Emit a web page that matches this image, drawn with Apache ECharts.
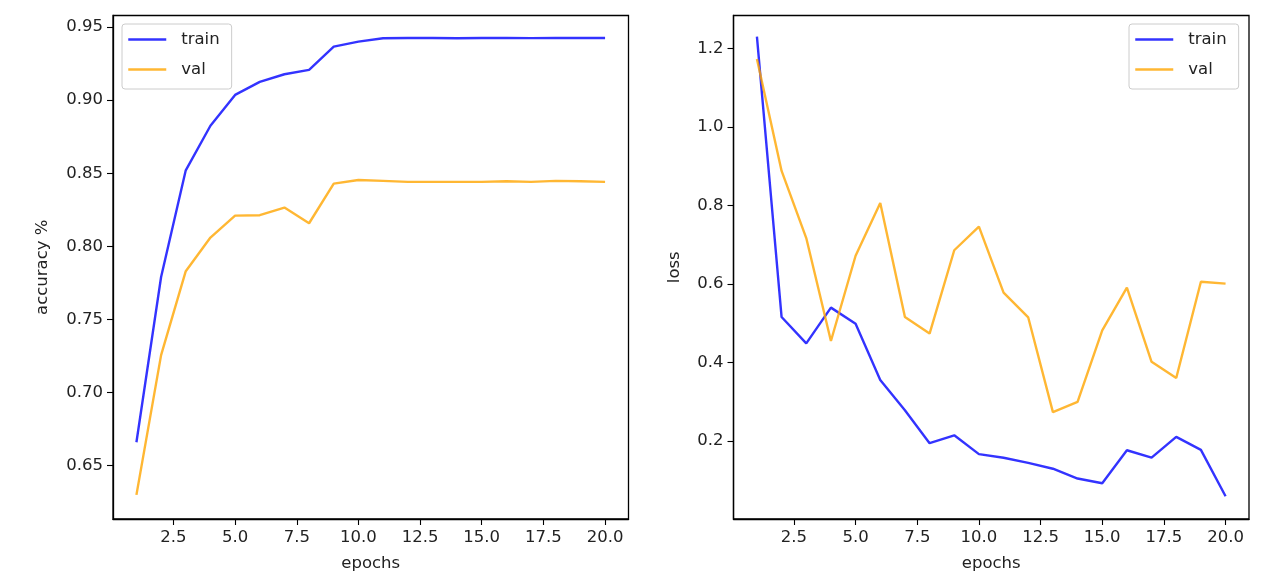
<!DOCTYPE html>
<html>
<head>
<meta charset="utf-8">
<script src="https://cdn.jsdelivr.net/npm/echarts@6/dist/echarts.min.js"></script>
<style>
html,body{margin:0;padding:0;background:#fff;}
#chart{width:1276px;height:587px;}
</style>
</head>
<body>
<div id="chart"></div>
<script>
const epochs = [1,2,3,4,5,6,7,8,9,10,11,12,13,14,15,16,17,18,19,20];
const accTrain = [0.666,0.779,0.852,0.8825,0.9036,0.9125,0.9177,0.9207,0.9366,0.940,0.9423,0.9425,0.9425,0.9423,0.9425,0.9426,0.9424,0.9425,0.9425,0.9425];
const accVal = [0.630,0.7256,0.783,0.806,0.821,0.8213,0.8265,0.8158,0.8429,0.8454,0.8448,0.8441,0.8441,0.8441,0.8441,0.8445,0.8441,0.8448,0.8445,0.8441];
const lossTrain = [1.23,0.516,0.449,0.540,0.499,0.356,0.279,0.195,0.215,0.167,0.158,0.145,0.130,0.105,0.093,0.177,0.158,0.211,0.178,0.060];
const lossVal = [1.173,0.888,0.717,0.455,0.672,0.806,0.516,0.474,0.686,0.746,0.578,0.515,0.274,0.300,0.482,0.591,0.402,0.361,0.606,0.601];
const epochTicks = [2.5,5,7.5,10,12.5,15,17.5,20];
const accTicks = [0.65,0.70,0.75,0.80,0.85,0.90,0.95];
const lossTicks = [0.2,0.4,0.6,0.8,1.0,1.2];
const seriesNames = ['train','val'];

const FONT = 'DejaVu Sans';
const FS = 16.5;
const TXT = '#222';
const BLUE = 'rgba(0,0,255,0.8)';
const ORANGE = 'rgba(255,165,0,0.8)';

function pts(ys){ return epochs.map((e,i)=>[e, ys[i]]); }

function xAxis(gi){
  return {
    type:'value', gridIndex:gi, min:0.05, max:20.95,
    name:'epochs', nameLocation:'middle', nameGap:36,
    nameTextStyle:{fontFamily:FONT, fontSize:FS, color:TXT},
    axisLine:{show:true, onZero:false, lineStyle:{color:'#000', width:1.3}},
    axisTick:{show:true, customValues:epochTicks, length:6, lineStyle:{color:'#000', width:1.1}},
    axisLabel:{customValues:epochTicks, formatter:v=>Number(v).toFixed(1), margin:10,
      fontFamily:FONT, fontSize:FS, color:TXT},
    splitLine:{show:false}
  };
}
function yAxis(gi, min, max, ticks, dec, name, gap){
  return {
    type:'value', gridIndex:gi, min:min, max:max,
    name:name, nameLocation:'middle', nameGap:gap,
    nameTextStyle:{fontFamily:FONT, fontSize:FS, color:TXT},
    axisLine:{show:true, onZero:false, lineStyle:{color:'#000', width:1.3}},
    axisTick:{show:true, customValues:ticks, length:6, lineStyle:{color:'#000', width:1.1}},
    axisLabel:{customValues:ticks, formatter:v=>Number(v).toFixed(dec), margin:10,
      fontFamily:FONT, fontSize:FS, color:TXT},
    splitLine:{show:false}
  };
}
function legend(left){
  return {
    left:left, top:24, orient:'vertical', data:seriesNames,
    itemWidth:38, itemHeight:14, itemGap:13,
    padding:[7,12,11,5],
    borderColor:'#ccc', borderWidth:1, borderRadius:3,
    backgroundColor:'rgba(255,255,255,0.8)',
    itemStyle:{color:'rgba(0,0,0,0)', borderWidth:0, opacity:0},
    lineStyle:{width:2.5},
    textStyle:{fontFamily:FONT, fontSize:FS, color:TXT, padding:[0,0,0,10]}
  };
}
function line(name, data, color, xi){
  return {
    type:'line', name:name, xAxisIndex:xi, yAxisIndex:xi, data:data,
    symbol:'none', showSymbol:false,
    lineStyle:{color:color, width:2.4}, itemStyle:{color:color},
    emphasis:{disabled:true}
  };
}

const chart = echarts.init(document.getElementById('chart'), null, {renderer:'canvas'});
chart.setOption({
  animation:false,
  backgroundColor:'#fff',
  grid:[
    {left:113, right:647.5, top:15.5, bottom:68, show:true, borderColor:'#000', borderWidth:1.3, backgroundColor:'transparent'},
    {left:733.5, right:27, top:15.5, bottom:68, show:true, borderColor:'#000', borderWidth:1.3, backgroundColor:'transparent'}
  ],
  xAxis:[xAxis(0), xAxis(1)],
  yAxis:[
    yAxis(0, 0.6135, 0.9579, accTicks, 2, 'accuracy %', 62),
    yAxis(1, 0.002, 1.2835, lossTicks, 1, 'loss', 50)
  ],
  legend:[legend(122), legend(1129)],
  series:[
    line(seriesNames[0], pts(accTrain), BLUE, 0),
    line(seriesNames[1], pts(accVal), ORANGE, 0),
    line(seriesNames[0], pts(lossTrain), BLUE, 1),
    line(seriesNames[1], pts(lossVal), ORANGE, 1)
  ]
});
</script>
</body>
</html>
